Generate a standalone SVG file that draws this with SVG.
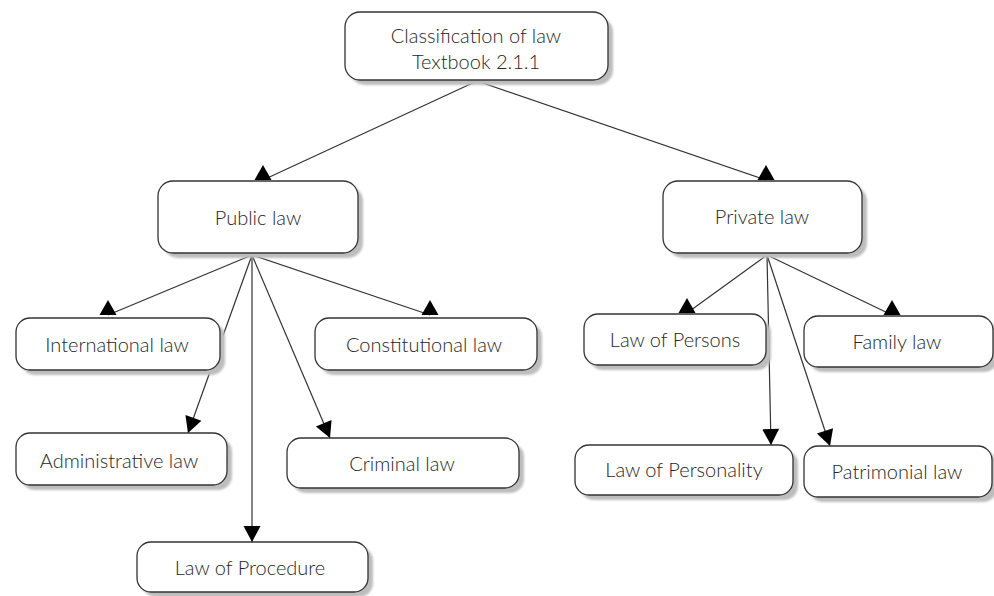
<svg xmlns="http://www.w3.org/2000/svg" width="994" height="596" viewBox="0 0 994 596">
<style>
.box{fill:#fff;stroke:#333;stroke-width:1.3}
.sh{fill:#bdbdbd;filter:url(#blur)}
.lbl{font-family:Lato,"Liberation Sans",sans-serif;font-weight:300;font-size:20px;fill:#262626;text-anchor:middle;dominant-baseline:central}
.ln{stroke:#333;stroke-width:1.2;fill:none}
.dn{marker-end:url(#arr)}
.up{marker-end:url(#tri)}
</style>
<defs>
<filter id="blur" x="-10%" y="-10%" width="120%" height="130%"><feGaussianBlur stdDeviation="1.2"/></filter>
<marker id="arr" markerUnits="userSpaceOnUse" markerWidth="20" markerHeight="20" viewBox="0 -10 20 20" refX="16" refY="0" orient="auto" overflow="visible">
<path d="M0,-8.5 L16,0 L0,8.5 Z" fill="#000"/>
</marker>
<marker id="tri" markerUnits="userSpaceOnUse" markerWidth="20" markerHeight="20" viewBox="-10 -17 20 20" refX="0" refY="0" orient="0" overflow="visible">
<path d="M-8.5,0 L8.5,0 L0,-15 Z" fill="#000"/>
</marker>
</defs>
<g id="connectors">
<line class="ln up" x1="477" y1="81" x2="263" y2="180"/>
<line class="ln up" x1="477" y1="81" x2="766" y2="180"/>
<line class="ln up" x1="252" y1="255" x2="108" y2="315"/>
<line class="ln up" x1="252" y1="255" x2="430" y2="315"/>
<line class="ln dn" x1="252" y1="255" x2="188" y2="433"/>
<line class="ln dn" x1="252" y1="255" x2="252" y2="542"/>
<line class="ln dn" x1="252" y1="255" x2="330" y2="438"/>
<line class="ln up" x1="767" y1="255" x2="687" y2="313"/>
<line class="ln up" x1="767" y1="255" x2="892" y2="315"/>
<line class="ln dn" x1="767" y1="255" x2="771" y2="445"/>
<line class="ln dn" x1="767" y1="255" x2="830" y2="446"/>
</g>
<g id="root">
<rect class="sh" x="350" y="17" width="263" height="68" rx="15"/>
<rect class="box" x="345" y="12" width="263" height="68" rx="15"/>
<text class="lbl" x="476" y="35">Classification of law</text>
<text class="lbl" x="476" y="61">Textbook 2.1.1</text>
</g>
<g id="public">
<rect class="sh" x="163" y="186" width="200" height="72" rx="15"/>
<rect class="box" x="158" y="181" width="200" height="72" rx="15"/>
<text class="lbl" x="258" y="217">Public law</text>
</g>
<g id="private">
<rect class="sh" x="668" y="186" width="199" height="72" rx="15"/>
<rect class="box" x="663" y="181" width="199" height="72" rx="15"/>
<text class="lbl" x="762" y="216">Private law</text>
</g>
<g id="international">
<rect class="sh" x="21" y="323" width="204" height="52" rx="14"/>
<rect class="box" x="16" y="318" width="204" height="52" rx="14"/>
<text class="lbl" x="117" y="344">International law</text>
</g>
<g id="constitutional">
<rect class="sh" x="320" y="323" width="222" height="52" rx="14"/>
<rect class="box" x="315" y="318" width="222" height="52" rx="14"/>
<text class="lbl" x="424" y="344">Constitutional law</text>
</g>
<g id="administrative">
<rect class="sh" x="21" y="438" width="211" height="52" rx="14"/>
<rect class="box" x="16" y="433" width="211" height="52" rx="14"/>
<text class="lbl" x="119" y="460">Administrative law</text>
</g>
<g id="criminal">
<rect class="sh" x="292" y="443" width="232" height="50" rx="14"/>
<rect class="box" x="287" y="438" width="232" height="50" rx="14"/>
<text class="lbl" x="402" y="463">Criminal law</text>
</g>
<g id="procedure">
<rect class="sh" x="142" y="547" width="231" height="50" rx="14"/>
<rect class="box" x="137" y="542" width="231" height="50" rx="14"/>
<text class="lbl" x="250" y="567">Law of Procedure</text>
</g>
<g id="persons">
<rect class="sh" x="589" y="319" width="182" height="51" rx="14"/>
<rect class="box" x="584" y="314" width="182" height="51" rx="14"/>
<text class="lbl" x="675" y="339">Law of Persons</text>
</g>
<g id="family">
<rect class="sh" x="809" y="321" width="189" height="51" rx="14"/>
<rect class="box" x="804" y="316" width="189" height="51" rx="14"/>
<text class="lbl" x="897" y="341">Family law</text>
</g>
<g id="personality">
<rect class="sh" x="580" y="450" width="218" height="50" rx="14"/>
<rect class="box" x="575" y="445" width="218" height="50" rx="14"/>
<text class="lbl" x="684" y="469">Law of Personality</text>
</g>
<g id="patrimonial">
<rect class="sh" x="809" y="451" width="188" height="51" rx="14"/>
<rect class="box" x="804" y="446" width="188" height="51" rx="14"/>
<text class="lbl" x="897" y="471">Patrimonial law</text>
</g>
</svg>
